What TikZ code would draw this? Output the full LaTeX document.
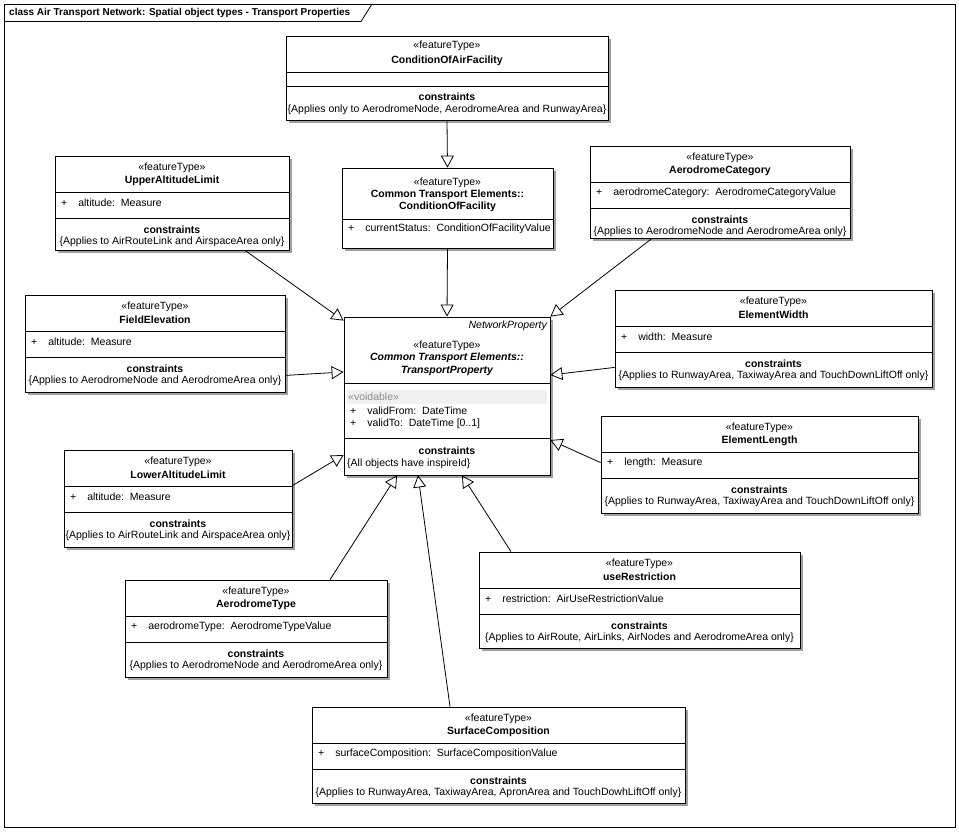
\documentclass[tikz,border=0pt]{standalone}
\usepackage{fontspec}
\setmainfont{Liberation Sans}
\usetikzlibrary{arrows.meta,positioning,fit}
\definecolor{umlshade}{HTML}{A0A0A0}
\definecolor{umlvoid}{HTML}{F0F0F0}
\definecolor{umlgrey}{HTML}{8A8A8A}
\tikzset{
  cls/.style={draw=black, fill=white, line width=0.8pt, inner sep=0pt},
  shd/.style={fill=umlshade},
  sep/.style={line width=0.8pt},
  stereo/.style={inner sep=0pt, font=\fontsize{10.5}{12}\selectfont},
  cname/.style={inner sep=0pt, font=\fontsize{10.5}{12}\selectfont\bfseries},
  attr/.style={inner sep=0pt, anchor=west, font=\fontsize{10.5}{12}\selectfont},
  txt/.style={inner sep=0pt, font=\fontsize{10.5}{12}\selectfont},
  gen/.style={-{Triangle[open,length=12pt,width=13pt]}, line width=0.8pt, draw=black},
}
% one feature type box: name, left, top, right, bottom, class, attribute, constraint
\newcommand{\featbox}[8]{%
  \fill[shd] (#2+3,#3+3) rectangle (#4+3,#5+3);
  \node[cls, fit={(#2,#3) (#4,#5)}] (#1) {};
  \draw[sep] (#2,#3+36.5) -- (#4,#3+36.5) (#2,#3+62.5) -- (#4,#3+62.5);
  \node[stereo] (#1-st) at ({(#2+#4)/2},#3+11.5) {«featureType»};
  \node[cname] (#1-name) at ({(#2+#4)/2},#3+25) {#6};
  \node[attr] (#1-attr) at (#2+6,#3+47) {+\hspace{11pt}#7};
  \node[cname] (#1-con) at ({(#2+#4)/2},#3+73.5) {constraints};
  \node[txt] (#1-text) at ({(#2+#4)/2},#3+85.5) {\{#8\}};
}

\begin{document}
\begin{tikzpicture}[x=1pt,y=-1pt]
  \useasboundingbox (0,0) rectangle (959,831);
  % frame
  \draw[sep] (4,4) rectangle (955,827);
  \draw[sep] (4,21.5) -- (361,21.5) -- (372,4);
  \node[cname, anchor=west, font=\fontsize{10}{12}\selectfont\bfseries] (title) at (9,13) {class Air Transport Network: Spatial object types - Transport Properties};

  % top chain
  \fill[shd] (289,39) rectangle (611,123);
  \node[cls, fit={(286,36) (608,120)}] (coaf) {};
  \draw[sep] (286,72) -- (608,72) (286,86) -- (608,86);
  \node[stereo] (coaf-st) at (447,46) {«featureType»};
  \node[cname] (coaf-name) at (447,61) {ConditionOfAirFacility};
  \node[cname] (coaf-con) at (447,97) {constraints};
  \node[txt] (coaf-text) at (447,110) {\{Applies only to AerodromeNode, AerodromeArea and RunwayArea\}};

  \fill[shd] (345,171) rectangle (556,251);
  \node[cls, fit={(342,168) (553,248)}] (cof) {};
  \draw[sep] (342,219) -- (553,219);
  \node[stereo] (cof-st) at (447.5,183) {«featureType»};
  \node[cname] (cof-name) at (447.5,195) {Common Transport Elements::};
  \node[cname] (cof-name2) at (447.5,207) {ConditionOfFacility};
  \node[attr] (cof-attr) at (348,229) {+\hspace{11pt}currentStatus:~~ConditionOfFacilityValue};

  % central class
  \fill[shd] (347,320) rectangle (553,478);
  \node[cls, fit={(344,317) (550,475)}] (tp) {};
  \node[txt, anchor=east, font=\fontsize{10.5}{12}\selectfont\itshape] (tp-np) at (547,326) {NetworkProperty};
  \node[stereo] (tp-st) at (447,346) {«featureType»};
  \node[cname, font=\fontsize{10.5}{12}\selectfont\bfseries\itshape] (tp-name) at (447,358) {Common Transport Elements::};
  \node[cname, font=\fontsize{10.5}{12}\selectfont\bfseries\itshape] (tp-name2) at (447,371) {TransportProperty};
  \draw[sep] (344,383) -- (550,383) (344,438) -- (550,438);
  \fill[umlvoid] (347,390) rectangle (547,404);
  \node[attr, text=umlgrey] (tp-void) at (348,397) {«voidable»};
  \node[attr] (tp-from) at (350,411) {+\hspace{11pt}validFrom:~~DateTime};
  \node[attr] (tp-to) at (350,424) {+\hspace{11pt}validTo:~~DateTime [0..1]};
  \node[cname] (tp-con) at (447,451) {constraints};
  \node[attr] (tp-text) at (347,464) {\{All objects have inspireId\}};

  % property types
  \featbox{upper}{55}{156}{289}{250}{UpperAltitudeLimit}{altitude:~~Measure}{Applies to AirRouteLink and AirspaceArea only}
  \featbox{acat}{590}{146}{850}{238}{AerodromeCategory}{aerodromeCategory:~~AerodromeCategoryValue}{Applies to AerodromeNode and AerodromeArea only}
  \featbox{felev}{25}{295}{285}{392}{FieldElevation}{altitude:~~Measure}{Applies to AerodromeNode and AerodromeArea only}
  \featbox{ewidth}{615}{290}{932}{387}{ElementWidth}{width:~~Measure}{Applies to RunwayArea, TaxiwayArea and TouchDownLiftOff only}
  \featbox{lalt}{64}{450}{292}{547}{LowerAltitudeLimit}{altitude:~~Measure}{Applies to AirRouteLink and AirspaceArea only}
  \featbox{elen}{601}{416}{918}{513}{ElementLength}{length:~~Measure}{Applies to RunwayArea, TaxiwayArea and TouchDownLiftOff only}
  \featbox{atype}{125}{580}{387}{677}{AerodromeType}{aerodromeType:~~AerodromeTypeValue}{Applies to AerodromeNode and AerodromeArea only}
  \featbox{ures}{479}{552}{800}{648}{useRestriction}{restriction:~~AirUseRestrictionValue}{Applies to AirRoute, AirLinks, AirNodes and AerodromeArea only}
  \featbox{scomp}{312}{707}{685}{803}{SurfaceComposition}{surfaceComposition:~~SurfaceCompositionValue}{Applies to RunwayArea, TaxiwayArea, ApronArea and TouchDowhLiftOff only}

  % generalisations
  \draw[gen] (coaf.south) -- (cof.north);
  \draw[gen] (cof.south) -- (tp.north);
  \draw[gen] ([xshift=73pt]upper.south) -- ([yshift=-4pt]tp.north west);
  \draw[gen] ([xshift=-68pt]acat.south) -- (tp.north east);
  \draw[gen] ([yshift=17pt]felev.south east) -- ([yshift=24pt]tp.west);
  \draw[gen] ([yshift=20pt]ewidth.south west) -- ([yshift=21pt]tp.east);
  \draw[gen] ([yshift=-36pt]lalt.north east) -- ([yshift=-59pt]tp.west);
  \draw[gen] ([yshift=-47pt]elen.north west) -- ([yshift=-44pt]tp.east);
  \draw[gen] ([xshift=74pt]atype.north) -- ([xshift=-50pt]tp.south);
  \draw[gen] ([xshift=-48.5pt]scomp.north) -- ([xshift=-29pt]tp.south);
  \draw[gen] ([xshift=-128.5pt]ures.north) -- ([xshift=15pt]tp.south);
\end{tikzpicture}
\end{document}
